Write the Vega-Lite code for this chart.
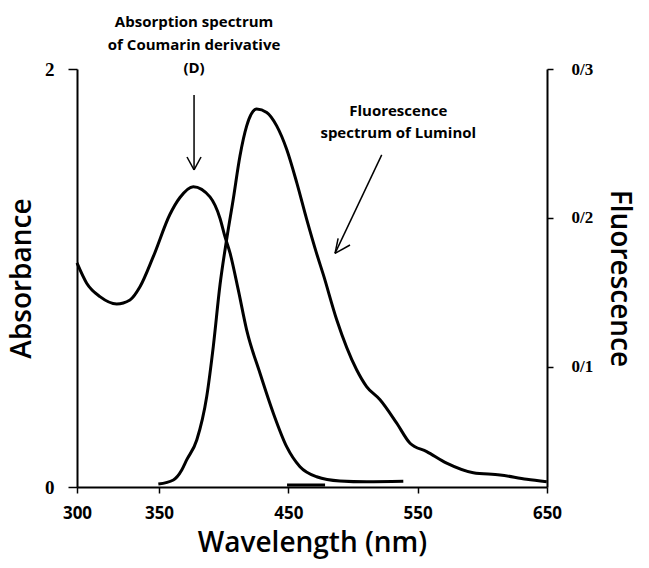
{
  "$schema": "https://vega.github.io/schema/vega-lite/v6.json",
  "width": 470,
  "height": 418,
  "autosize": "none",
  "padding": {"left": 77, "top": 69, "right": 102, "bottom": 81},
  "background": "white",
  "config": {
    "view": {"stroke": null},
    "axis": {
      "grid": false,
      "domainColor": "black",
      "domainWidth": 2,
      "tickColor": "black",
      "tickWidth": 1.5,
      "labelColor": "black",
      "titleColor": "black"
    }
  },
  "datasets": {
    "absorbance": [
      {"wl": 300, "A": 1.072},
      {"wl": 305.9, "A": 0.975},
      {"wl": 314, "A": 0.911},
      {"wl": 324.2, "A": 0.876},
      {"wl": 332.3, "A": 0.895},
      {"wl": 338.4, "A": 0.958},
      {"wl": 346.5, "A": 1.102},
      {"wl": 358.5, "A": 1.305},
      {"wl": 366.2, "A": 1.385},
      {"wl": 376.5, "A": 1.437},
      {"wl": 389.4, "A": 1.388},
      {"wl": 397.2, "A": 1.285},
      {"wl": 401, "A": 1.198},
      {"wl": 404.9, "A": 1.12},
      {"wl": 411.3, "A": 0.943},
      {"wl": 417.8, "A": 0.751},
      {"wl": 428.1, "A": 0.544},
      {"wl": 438.4, "A": 0.353},
      {"wl": 448.7, "A": 0.193},
      {"wl": 459, "A": 0.097},
      {"wl": 471.9, "A": 0.049},
      {"wl": 489.9, "A": 0.029},
      {"wl": 510.5, "A": 0.025},
      {"wl": 538.9, "A": 0.027}
    ],
    "fluorescence": [
      {"wl": 349.6, "F": 0.0212},
      {"wl": 361.1, "F": 0.0239},
      {"wl": 367.6, "F": 0.0306},
      {"wl": 371.4, "F": 0.0374},
      {"wl": 379.2, "F": 0.0508},
      {"wl": 386.9, "F": 0.08},
      {"wl": 392.0, "F": 0.1137},
      {"wl": 397.2, "F": 0.1552},
      {"wl": 402.3, "F": 0.1855},
      {"wl": 407.4, "F": 0.2125},
      {"wl": 412.6, "F": 0.2416},
      {"wl": 417.8, "F": 0.2618},
      {"wl": 425.5, "F": 0.2731},
      {"wl": 433.3, "F": 0.2708},
      {"wl": 441.0, "F": 0.2618},
      {"wl": 448.7, "F": 0.2461},
      {"wl": 456.5, "F": 0.2237},
      {"wl": 464.2, "F": 0.199},
      {"wl": 471.9, "F": 0.176},
      {"wl": 477.0, "F": 0.162},
      {"wl": 487.4, "F": 0.1316},
      {"wl": 502.8, "F": 0.098},
      {"wl": 510.5, "F": 0.0867},
      {"wl": 520.9, "F": 0.0778},
      {"wl": 533.8, "F": 0.0621},
      {"wl": 544.1, "F": 0.0486},
      {"wl": 557.0, "F": 0.043},
      {"wl": 572.4, "F": 0.0352},
      {"wl": 593.0, "F": 0.0288},
      {"wl": 613.7, "F": 0.0273},
      {"wl": 634.3, "F": 0.0244},
      {"wl": 649.8, "F": 0.0228}
    ],
    "arrows": [
      {"wl": 377.1, "A": 1.876, "wl2": 377.1, "A2": 1.517},
      {"wl": 371.65, "A": 1.579, "wl2": 377.1, "A2": 1.517},
      {"wl": 382.5, "A": 1.579, "wl2": 377.1, "A2": 1.517},
      {"wl": 522.2, "A": 1.589, "wl2": 486.1, "A2": 1.118},
      {"wl": 497.7, "A": 1.158, "wl2": 486.1, "A2": 1.118},
      {"wl": 488.5, "A": 1.19, "wl2": 486.1, "A2": 1.118}
    ],
    "baseline": [
      {"wl": 449, "A": 0.01, "wl2": 478.4, "A2": 0.01}
    ],
    "notes": [
      {"label": "Absorption spectrum", "wl": 377.1, "A": 2.225},
      {"label": "of Coumarin derivative", "wl": 377.1, "A": 2.115},
      {"label": "(D)", "wl": 377.1, "A": 2.005},
      {"label": "Fluorescence", "wl": 535, "A": 1.799},
      {"label": "spectrum of Luminol", "wl": 535, "A": 1.694}
    ]
  },
  "encoding": {
    "x": {
      "field": "wl",
      "type": "quantitative",
      "scale": {"domain": [300, 350, 650], "range": [0, 82, 470], "nice": false, "zero": false},
      "axis": {
        "values": [300, 350, 450, 550, 650],
        "format": "d",
        "labelFont": "Open Sans",
        "labelFontWeight": "bold",
        "labelFontSize": 17,
        "labelPadding": 12,
        "labelFlush": false,
        "tickSize": 6,
        "title": "Wavelength (nm)",
        "titleFont": "Open Sans",
        "titleFontSize": 28,
        "titleFontWeight": 600,
        "titlePadding": 8
      }
    }
  },
  "layer": [
    {
      "encoding": {
        "y": {
          "field": "A",
          "type": "quantitative",
          "scale": {"domain": [0, 2], "nice": false},
          "axis": {
            "values": [0, 1, 2],
            "format": "d",
            "labelFont": "Liberation Serif",
            "labelFontWeight": "bold",
            "labelFontSize": 19,
            "labelPadding": 14,
            "tickSize": 9,
            "title": "Absorbance",
            "titleFont": "Open Sans",
            "titleFontSize": 28,
            "titleFontWeight": 600,
            "titlePadding": 8
          }
        }
      },
      "layer": [
        {
          "data": {"name": "absorbance"},
          "mark": {"type": "line", "color": "black", "strokeWidth": 3, "interpolate": "monotone"}
        },
        {
          "data": {"name": "arrows"},
          "mark": {"type": "rule", "color": "black", "strokeWidth": 1.5},
          "encoding": {
            "x2": {"field": "wl2"},
            "y2": {"field": "A2"}
          }
        },
        {
          "data": {"name": "baseline"},
          "mark": {"type": "rule", "color": "black", "strokeWidth": 3},
          "encoding": {
            "x2": {"field": "wl2"},
            "y2": {"field": "A2"}
          }
        },
        {
          "data": {"name": "notes"},
          "mark": {"type": "text", "font": "Open Sans", "fontWeight": "bold", "fontSize": 15, "color": "black", "align": "center", "baseline": "middle"},
          "encoding": {"text": {"field": "label"}}
        }
      ]
    },
    {
      "data": {"name": "fluorescence"},
      "mark": {"type": "line", "color": "black", "strokeWidth": 3, "interpolate": "monotone"},
      "encoding": {
        "y": {
          "field": "F",
          "type": "quantitative",
          "scale": {"domain": [0.0192, 0.3], "nice": false, "zero": false},
          "axis": {
            "orient": "right",
            "values": [0.1, 0.2, 0.3],
            "labelExpr": "replace(format(datum.value, '.1f'), '.', '/')",
            "labelFont": "Liberation Serif",
            "labelFontWeight": "bold",
            "labelFontSize": 17,
            "labelPadding": 18,
            "tickSize": 6,
            "title": "Fluorescence",
            "titleFont": "Open Sans",
            "titleFontSize": 28,
            "titleFontWeight": 600,
            "titlePadding": 12
          }
        }
      }
    }
  ],
  "resolve": {"scale": {"y": "independent"}, "axis": {"y": "independent"}}
}
